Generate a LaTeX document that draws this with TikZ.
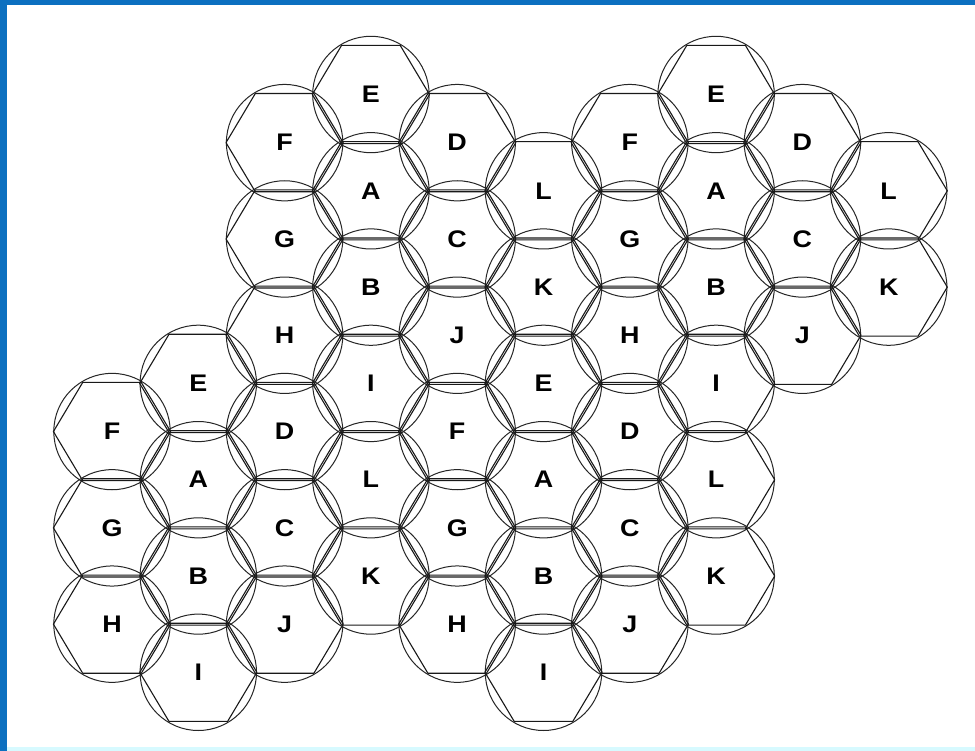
\documentclass[tikz,border=0pt]{standalone}
\usepackage{fontspec}
\setmainfont{Liberation Sans}
\usepackage{graphicx}
\usepackage{tikz}
\definecolor{frameblue}{RGB}{12,112,192}
\definecolor{framecyan}{RGB}{215,250,255}

\begin{document}
\begin{tikzpicture}[x=1pt, y=-1pt,
    cellring/.style={draw=black!85, line width=1pt},
    hexcell/.style={draw=black!90, line width=1.1pt, line join=round},
    cellname/.style={font=\bfseries\fontsize{24}{24}\selectfont, inner sep=0pt}]
    % frame
    \fill[frameblue] (0,0) rectangle (975,751);
    \fill[framecyan] (7,5) rectangle (975,751);
    \fill[white] (7,5) rectangle (975,747);
    \useasboundingbox (0,0) rectangle (975,751);
    % cells: column / half row / letter
    \foreach \c/\k/\ltr in {0/7/F,0/9/G,0/11/H,
                            1/6/E,1/8/A,1/10/B,1/12/I,
                            2/1/F,2/3/G,2/5/H,2/7/D,2/9/C,2/11/J,
                            3/0/E,3/2/A,3/4/B,3/6/I,3/8/L,3/10/K,
                            4/1/D,4/3/C,4/5/J,4/7/F,4/9/G,4/11/H,
                            5/2/L,5/4/K,5/6/E,5/8/A,5/10/B,5/12/I,
                            6/1/F,6/3/G,6/5/H,6/7/D,6/9/C,6/11/J,
                            7/0/E,7/2/A,7/4/B,7/6/I,7/8/L,7/10/K,
                            8/1/D,8/3/C,8/5/J,
                            9/2/L,9/4/K} {
        \coordinate (cell-\c-\k) at ({112+86.3*\c},{94.5+48.15*\k});
        \draw[cellring] (cell-\c-\k) circle (58.2);
        \draw[hexcell, shift={(cell-\c-\k)}] (-58.6,0) -- (-29.3,-49.1) -- (29.3,-49.1)
            -- (58.6,0) -- (29.3,49.1) -- (-29.3,49.1) -- cycle;
        \node[cellname] (name-\c-\k) at (cell-\c-\k) {\scalebox{1.12}[1]{\ltr}};
    }
\end{tikzpicture}
\end{document}
